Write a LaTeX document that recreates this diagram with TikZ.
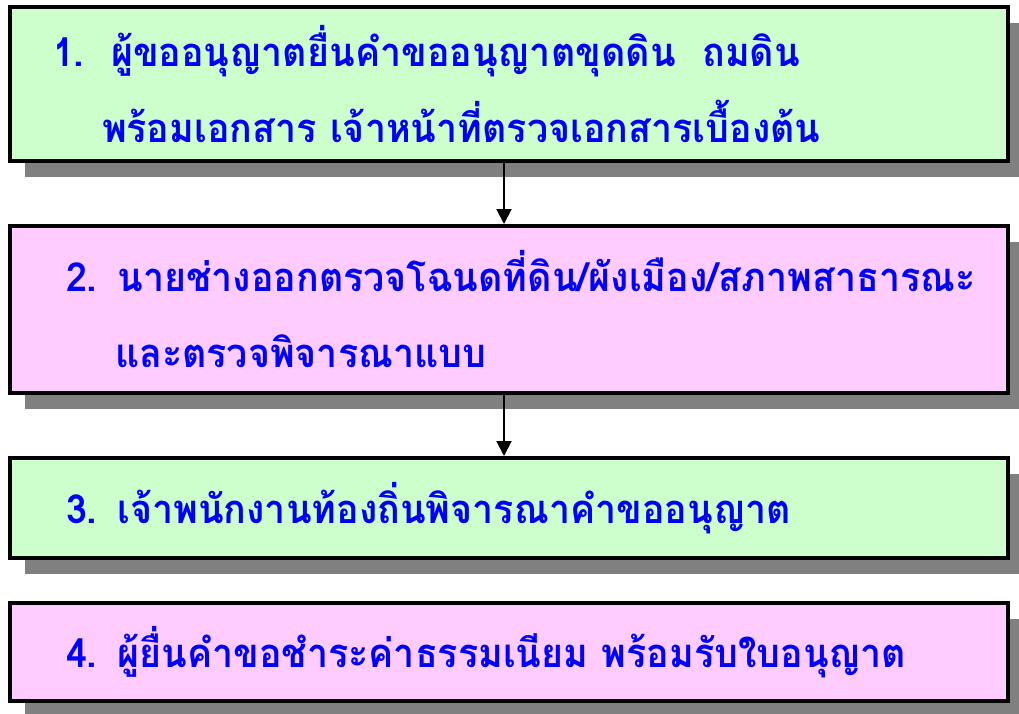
\documentclass[tikz,border=0pt]{standalone}
\usepackage{fontspec}
\newfontfamily\thaifont[Script=Thai, FakeStretch=0.94]{Loma}
\usetikzlibrary{arrows.meta, positioning, shadows}
\definecolor{stepgreen}{RGB}{204,255,204}
\definecolor{steppink}{RGB}{255,204,255}
\definecolor{stepblue}{RGB}{0,0,255}
\definecolor{shadowgray}{RGB}{128,128,128}
\tikzset{
  stage/.style={rectangle, draw=black, line width=4pt, minimum width=998pt,
    text width=886pt, inner xsep=56pt, inner ysep=0pt, align=left, text=stepblue,
    font=\thaifont\bfseries\fontsize{40}{76}\selectfont,
    drop shadow={shadow xshift=15pt, shadow yshift=-16pt, fill=shadowgray, opacity=1}},
  gstage/.style={stage, fill=stepgreen},
  pstage/.style={stage, fill=steppink},
  arrow/.style={-{Triangle[length=15pt, width=15pt]}, line width=2pt, black}
}
\begin{document}
\begin{tikzpicture}
  \useasboundingbox (0,0) rectangle (1019pt,-713pt);
  \node[gstage, minimum height=154pt, inner xsep=43pt, text width=912pt] (s1) at (509pt,-84pt)
    {1.\ \ ผู้ขออนุญาตยื่นคำขออนุญาตขุดดิน\ \ ถมดิน\\\hspace*{49pt}พร้อมเอกสาร เจ้าหน้าที่ตรวจเอกสารเบื้องต้น};
  \node[pstage, minimum height=167pt, below=61pt of s1] (s2)
    {2. นายช่างออกตรวจโฉนดที่ดิน/ผังเมือง/สภาพสาธารณะ\\\hspace*{49pt}และตรวจพิจารณาแบบ};
  \node[gstage, minimum height=100pt, below=61pt of s2] (s3)
    {3. เจ้าพนักงานท้องถิ่นพิจารณาคำขออนุญาต};
  \node[pstage, minimum height=98pt, below=41pt of s3] (s4)
    {4. ผู้ยื่นคำขอชำระค่าธรรมเนียม พร้อมรับใบอนุญาต};
  \draw[arrow] ([xshift=-5pt]s1.south) -- ([xshift=-5pt]s2.north);
  \draw[arrow] ([xshift=-5pt]s2.south) -- ([xshift=-5pt]s3.north);
\end{tikzpicture}
\end{document}
